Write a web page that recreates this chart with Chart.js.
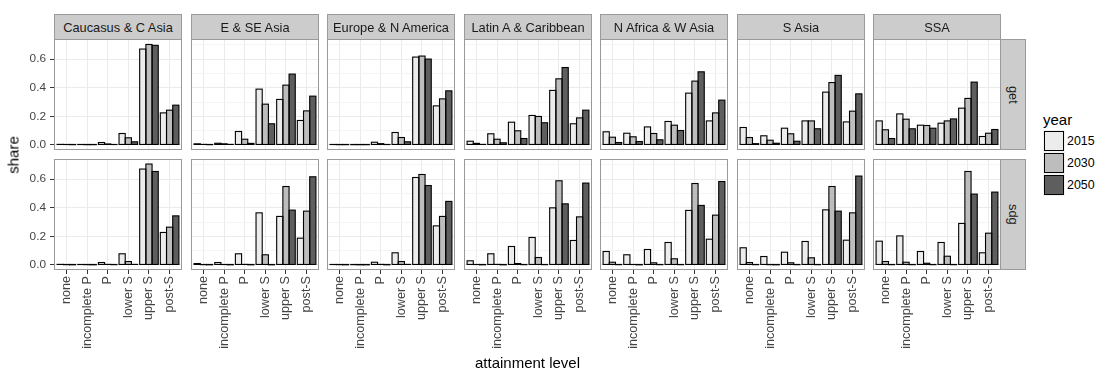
<!DOCTYPE html>
<html>
<head>
<meta charset="utf-8">
<script src="https://cdn.jsdelivr.net/npm/chart.js@4/dist/chart.umd.min.js"></script>
<style>
  html, body { margin: 0; padding: 0; background: #fff; }
  body { width: 1098px; height: 371px; position: relative; overflow: hidden;
         font-family: "Liberation Sans", Arial, Helvetica, sans-serif; }
  canvas { position: absolute; }
  .strip { position: absolute; box-sizing: border-box; background: #cccccc; border: 1px solid #9a9a9a;
           color: #1a1a1a; font-size: 12.8px; display: flex; align-items: center; justify-content: center;
           white-space: nowrap; }
  .strip.side span { writing-mode: vertical-rl; }
  .title { position: absolute; font-size: 15px; font-weight: normal; color: #000; white-space: nowrap; }
  .vtitle { position: absolute; font-size: 15px; font-weight: normal; color: #000; white-space: nowrap;
            writing-mode: vertical-rl; }
  .key { position: absolute; width: 22px; height: 22px; background: #f2f2f2; }
  .key i { position: absolute; left: 1px; top: 1px; right: 1px; bottom: 1px; border: 1.3px solid #000; }
  .keylab { position: absolute; font-size: 12.4px; color: #000; }
</style>
</head>
<body>
<script>
// attainment levels on the x axis of every panel
const levels = ['none', 'incomplete P', 'P', 'lower S', 'upper S', 'post-S'];
const regions = ['Caucasus & C Asia', 'E & SE Asia', 'Europe & N America', 'Latin A & Caribbean',
                 'N Africa & W Asia', 'S Asia', 'SSA'];
const scenarios = ['get', 'sdg'];
const years = ['2015', '2030', '2050'];
const yearFills = ['#ececec', '#bdbdbd', '#5e5e5e'];
const yTickValues = [0, 0.1, 0.2, 0.3, 0.4, 0.5, 0.6, 0.7];

// share of population by attainment level; rows are 2015, 2030, 2050
const cca_get  = [[0.004, 0.003, 0.017, 0.080, 0.670, 0.224],
                  [0.003, 0.002, 0.007, 0.050, 0.702, 0.243],
                  [0.002, 0.002, 0.003, 0.022, 0.696, 0.278]];
const esea_get = [[0.008, 0.012, 0.094, 0.390, 0.318, 0.171],
                  [0.004, 0.008, 0.040, 0.285, 0.418, 0.238],
                  [0.002, 0.004, 0.011, 0.148, 0.495, 0.341]];
const eur_get  = [[0.003, 0.002, 0.019, 0.087, 0.614, 0.273],
                  [0.002, 0.002, 0.009, 0.052, 0.621, 0.322],
                  [0.002, 0.002, 0.003, 0.022, 0.600, 0.378]];
const lac_get  = [[0.026, 0.078, 0.159, 0.206, 0.381, 0.148],
                  [0.011, 0.040, 0.099, 0.199, 0.462, 0.189],
                  [0.004, 0.015, 0.045, 0.155, 0.541, 0.243]];
const nawa_get = [[0.092, 0.082, 0.126, 0.164, 0.362, 0.168],
                  [0.054, 0.057, 0.080, 0.138, 0.446, 0.224],
                  [0.017, 0.024, 0.036, 0.101, 0.511, 0.313]];
const sas_get  = [[0.122, 0.064, 0.117, 0.168, 0.369, 0.161],
                  [0.052, 0.033, 0.078, 0.168, 0.436, 0.236],
                  [0.009, 0.012, 0.026, 0.113, 0.486, 0.357]];
const ssa_get  = [[0.168, 0.217, 0.138, 0.152, 0.257, 0.059],
                  [0.106, 0.180, 0.136, 0.168, 0.325, 0.082],
                  [0.045, 0.113, 0.117, 0.182, 0.439, 0.108]];

const cca_sdg  = [[0.004, 0.003, 0.017, 0.078, 0.670, 0.227],
                  [0.002, 0.002, 0.004, 0.024, 0.705, 0.264],
                  [0.001, 0.001, 0.002, 0.004, 0.653, 0.343]];
const esea_sdg = [[0.010, 0.017, 0.078, 0.364, 0.339, 0.187],
                  [0.002, 0.003, 0.004, 0.071, 0.548, 0.376],
                  [0.001, 0.001, 0.001, 0.001, 0.383, 0.616]];
const eur_sdg  = [[0.003, 0.002, 0.019, 0.085, 0.611, 0.273],
                  [0.002, 0.001, 0.004, 0.024, 0.632, 0.339],
                  [0.001, 0.001, 0.001, 0.004, 0.555, 0.444]];
const lac_sdg  = [[0.029, 0.078, 0.129, 0.192, 0.399, 0.171],
                  [0.003, 0.004, 0.010, 0.052, 0.588, 0.336],
                  [0.001, 0.001, 0.002, 0.002, 0.427, 0.572]];
const nawa_sdg = [[0.094, 0.071, 0.108, 0.157, 0.381, 0.180],
                  [0.019, 0.003, 0.015, 0.043, 0.569, 0.348],
                  [0.002, 0.001, 0.002, 0.002, 0.416, 0.583]];
const sas_sdg  = [[0.120, 0.059, 0.089, 0.164, 0.385, 0.173],
                  [0.017, 0.002, 0.015, 0.050, 0.548, 0.364],
                  [0.002, 0.001, 0.002, 0.002, 0.376, 0.621]];
const ssa_sdg  = [[0.166, 0.203, 0.094, 0.157, 0.290, 0.085],
                  [0.024, 0.019, 0.012, 0.061, 0.653, 0.222],
                  [0.002, 0.002, 0.002, 0.002, 0.495, 0.509]];

const panelData = {
  get: [cca_get, esea_get, eur_get, lac_get, nawa_get, sas_get, ssa_get],
  sdg: [cca_sdg, esea_sdg, eur_sdg, lac_sdg, nawa_sdg, sas_sdg, ssa_sdg]
};

// shared y range: data range padded by 5% on both ends
const allValues = Object.values(panelData).flat(3);
const yMax = Math.max(...allValues);
const yLo = -0.05 * yMax, yHi = 1.05 * yMax;

// facet grid geometry
const PW = 128, PH = 111;
const colLeft = c => 54 + Math.round(c * 136.5);
const rowTop = [39, 159];
const STRIP_TOP = 14, STRIP_H = 26, SIDE_W = 26;
const FONT = '"Liberation Sans", Arial, Helvetica, sans-serif';

// ggplot-like bar outlines (stroke centred on the bar edge) and the panel frame
const panelFrame = {
  id: 'panelFrame',
  afterDatasetsDraw(chart) {
    const ctx = chart.ctx, a = chart.chartArea;
    ctx.save();
    ctx.beginPath();
    ctx.rect(a.left, a.top, a.right - a.left, a.bottom - a.top);
    ctx.clip();
    ctx.strokeStyle = '#000';
    ctx.lineWidth = 1.1;
    chart.getSortedVisibleDatasetMetas().forEach(meta => {
      meta.data.forEach(el => {
        const p = el.getProps(['x', 'y', 'base', 'width'], true);
        ctx.strokeRect(p.x - p.width / 2, Math.min(p.y, p.base), p.width, Math.abs(p.base - p.y));
      });
    });
    ctx.restore();
    ctx.save();
    ctx.strokeStyle = '#9a9a9a';
    ctx.lineWidth = 1;
    ctx.strokeRect(a.left + 0.5, a.top + 0.5, a.right - a.left - 1, a.bottom - a.top - 1);
    ctx.restore();
  }
};

function makePanel(c, r) {
  const rows = panelData[scenarios[r]][c];
  const yAxisW = c === 0 ? 50 : 0;
  const xAxisH = r === 1 ? 92 : 0;
  const cv = document.createElement('canvas');
  const w = PW + yAxisW, h = PH + xAxisH;
  cv.width = w; cv.height = h;
  cv.style.left = (colLeft(c) - yAxisW) + 'px';
  cv.style.top = rowTop[r] + 'px';
  cv.style.width = w + 'px';
  cv.style.height = h + 'px';
  document.body.appendChild(cv);

  new Chart(cv, {
    type: 'bar',
    data: {
      datasets: years.map((yr, k) => ({
        label: yr,
        data: levels.map((lv, i) => ({ x: i, y: rows[k][i] })),
        backgroundColor: yearFills[k],
        borderWidth: 0
      }))
    },
    options: {
      responsive: false,
      devicePixelRatio: 1,
      animation: false,
      events: [],
      layout: { padding: 0 },
      datasets: { bar: { categoryPercentage: 0.9, barPercentage: 1, inflateAmount: 0 } },
      plugins: { legend: { display: false }, tooltip: { enabled: false } },
      scales: {
        x: {
          type: 'linear',
          min: -0.6, max: levels.length - 0.4,
          offset: false,
          afterBuildTicks: s => { s.ticks = levels.map((_, i) => ({ value: i })); },
          afterFit: s => { s.height = xAxisH; s.paddingLeft = 0; s.paddingRight = 0; },
          ticks: {
            display: r === 1,
            autoSkip: false,
            minRotation: 90, maxRotation: 90,
            padding: 2,
            color: '#444',
            font: { family: FONT, size: 12.6 },
            callback: v => levels[v]
          },
          grid: {
            offset: false,
            color: '#ebebeb',
            lineWidth: 1,
            drawTicks: r === 1,
            tickLength: 4,
            tickColor: '#333',
            tickWidth: 1
          },
          border: { display: false }
        },
        y: {
          type: 'linear',
          min: yLo, max: yHi,
          afterBuildTicks: s => { s.ticks = yTickValues.map(v => ({ value: v })); },
          afterFit: s => { s.width = yAxisW; s.paddingTop = 0; s.paddingBottom = 0; },
          ticks: {
            display: c === 0,
            padding: 4,
            color: '#444',
            font: { family: FONT, size: 11.8 },
            callback: (v, i) => (i % 2 === 0 ? yTickValues[i].toFixed(1) : '')
          },
          grid: {
            color: ctx => (ctx.index % 2 === 0 ? '#ebebeb' : '#f4f4f4'),
            lineWidth: 1,
            drawTicks: c === 0,
            tickLength: 4,
            tickColor: ctx => (ctx.index % 2 === 0 ? '#333' : 'rgba(0,0,0,0)'),
            tickWidth: 1
          },
          border: { display: false }
        }
      }
    },
    plugins: [panelFrame]
  });
}

function addDiv(cls, text, style) {
  const d = document.createElement('div');
  d.className = cls;
  if (text !== null) d.textContent = text;
  Object.assign(d.style, style);
  document.body.appendChild(d);
  return d;
}

// panels
for (let r = 0; r < scenarios.length; r++)
  for (let c = 0; c < regions.length; c++) makePanel(c, r);

// column strips
regions.forEach((name, c) => {
  addDiv('strip', name, { left: colLeft(c) + 'px', top: STRIP_TOP + 'px',
                          width: PW + 'px', height: STRIP_H + 'px' });
});
// row strips
const rightEdge = colLeft(regions.length - 1) + PW;
scenarios.forEach((name, r) => {
  const d = addDiv('strip side', '', { left: (rightEdge - 1) + 'px', top: rowTop[r] + 'px',
                                       width: SIDE_W + 'px', height: PH + 'px' });
  const s = document.createElement('span');
  s.textContent = name;
  d.appendChild(s);
});

// axis titles
addDiv('vtitle', 'share', { left: '13px', top: '155px', transform: 'translate(-50%, -50%) rotate(180deg)' });
addDiv('title', 'attainment level', { left: ((colLeft(0) + rightEdge) / 2) + 'px', top: '362px',
                                      transform: 'translate(-50%, -50%)' });

// legend
addDiv('title', 'year', { left: '1043px', top: '111px' });
years.forEach((yr, k) => {
  const top = 130 + k * 22;
  const key = addDiv('key', '', { left: '1043px', top: top + 'px' });
  const box = document.createElement('i');
  box.style.background = yearFills[k];
  key.appendChild(box);
  addDiv('keylab', yr, { left: '1067px', top: (top + 11) + 'px', transform: 'translateY(-50%)' });
});
</script>
</body>
</html>
